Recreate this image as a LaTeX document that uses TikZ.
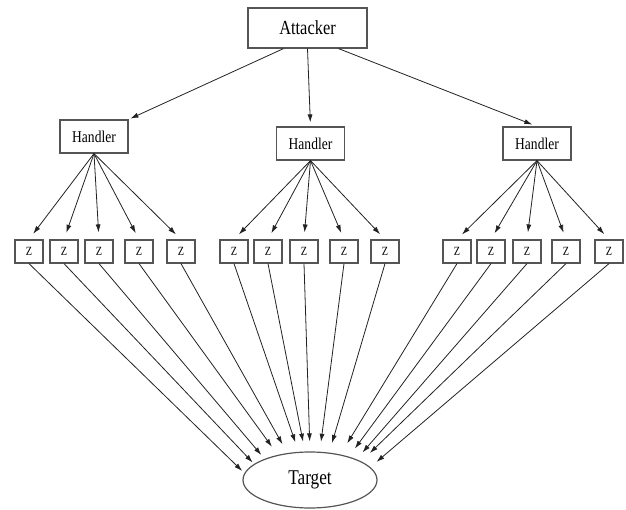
\documentclass[tikz,border=0pt]{standalone}
\usepackage{fontspec}
\setmainfont[FakeStretch=0.82]{Liberation Serif}
\usetikzlibrary{arrows.meta,shapes.geometric}
\definecolor{edge}{HTML}{555555}
\definecolor{wire}{HTML}{222222}
\tikzset{
  attacker/.style={draw=edge,line width=1.2pt,fill=white,minimum width=119pt,minimum height=40pt,inner sep=0pt,font=\fontsize{20}{22}\selectfont},
  handler/.style={draw=edge,line width=1.2pt,fill=white,minimum width=68pt,minimum height=33pt,inner sep=0pt,font=\fontsize{16.5}{18}\selectfont},
  zombie/.style={draw=edge,line width=1.2pt,fill=white,minimum width=28pt,minimum height=23pt,inner sep=0pt,font=\fontsize{12.5}{14}\selectfont},
  victim/.style={ellipse,draw=edge,line width=1.2pt,minimum width=134pt,minimum height=56pt,inner sep=0pt,font=\fontsize{21}{24}\selectfont},
  arr/.style={-{Latex[length=8pt,width=5pt]},draw=wire,line width=0.8pt},
  arrz/.style={arr,shorten >=7pt},
  arrt/.style={arr,shorten >=10pt}
}

\begin{document}
\begin{tikzpicture}[x=1pt,y=1pt]
\path[use as bounding box] (0,0) rectangle (626,509);
% attacker and the three handlers
\node[attacker] (att) at (307.5,481) {Attacker};
\node[handler] (h1) at (94,372.5) {Handler}; \node[handler] (h2) at (310.5,365.5) {Handler}; \node[handler] (h3) at (537,365.5) {Handler};
\draw[arr,shorten >=2pt] ([xshift=-24pt]att.south) -- (h1.north east);
\draw[arr,shorten >=4pt] (att.south) -- (h2.north);
\draw[arr,shorten >=5pt] ([xshift=31pt]att.south) -- (h3.north);
% zombies
\node[zombie] (z1) at (29,257.5) {Z}; \node[zombie] (z2) at (64,257.5) {Z}; \node[zombie] (z3) at (99,257.5) {Z}; \node[zombie] (z4) at (139,257.5) {Z}; \node[zombie] (z5) at (181,257.5) {Z};
\node[zombie] (z6) at (234,257.5) {Z}; \node[zombie] (z7) at (268,257.5) {Z}; \node[zombie] (z8) at (304,257.5) {Z}; \node[zombie] (z9) at (344,257.5) {Z}; \node[zombie] (z10) at (385,257.5) {Z};
\node[zombie] (z11) at (457,257.5) {Z}; \node[zombie] (z12) at (491,257.5) {Z}; \node[zombie] (z13) at (527,257.5) {Z}; \node[zombie] (z14) at (566,257.5) {Z}; \node[zombie] (z15) at (609,257.5) {Z};
\draw[arrz] (h1.south)--(z1.north); \draw[arrz] (h1.south)--(z2.north); \draw[arrz] (h1.south)--(z3.north); \draw[arrz] (h1.south)--(z4.north); \draw[arrz] (h1.south)--(z5.north);
\draw[arrz] (h2.south)--(z6.north); \draw[arrz] (h2.south)--(z7.north); \draw[arrz] (h2.south)--(z8.north); \draw[arrz] (h2.south)--(z9.north); \draw[arrz] (h2.south)--(z10.north);
\draw[arrz] (h3.south)--(z11.north); \draw[arrz] (h3.south)--(z12.north); \draw[arrz] (h3.south)--(z13.north); \draw[arrz] (h3.south)--(z14.north); \draw[arrz] (h3.south)--(z15.north);
% target
\node[victim] (tgt) at (310,29) {Target};
\draw[arrt,shorten >=3pt] (z1.south)--(tgt.174); \draw[arrt,shorten >=2pt] (z2.south)--(tgt.164); \draw[arrt,shorten >=5pt] (z3.south)--(tgt.155); \draw[arrt] (z4.south)--(tgt.142); \draw[arrt] (z5.south)--(tgt.130);
\draw[arrt] (z6.south)--(tgt.112); \draw[arrt] (z7.south)--(tgt.100); \draw[arrt] (z8.south)--(tgt.90); \draw[arrt] (z9.south)--(tgt.71); \draw[arrt] (z10.south)--(tgt.55);
\draw[arrt,shorten >=13pt] (z11.south)--(tgt.40); \draw[arrt] (z12.south)--(tgt.31); \draw[arrt,shorten >=9pt] (z13.south)--(tgt.24); \draw[arrt,shorten >=12pt] (z14.south)--(tgt.20); \draw[arrt,shorten >=8pt] (z15.south)--(tgt.12.5);
\end{tikzpicture}
\end{document}
